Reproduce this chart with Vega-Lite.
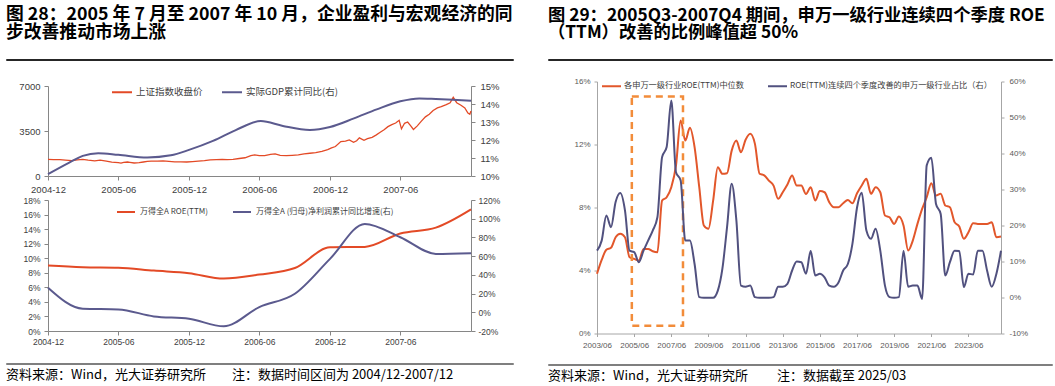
{
  "$schema": "https://vega.github.io/schema/vega-lite/v6.json",
  "padding": {"left": 5, "top": 5, "right": 0, "bottom": 0},
  "background": "white",
  "config": {
    "view": {"stroke": null},
    "axis": {"grid": false, "labelFont": "Liberation Sans", "labelFlush": false, "labelOverlap": false},
    "legend": {"padding": 0}
  },
  "spacing": 33,
  "resolve": {"scale": {"color": "independent"}, "legend": {"color": "independent"}},
  "hconcat": [
    {
      "columns": 1,
      "align": "none",
      "spacing": 11,
      "resolve": {"scale": {"color": "independent"}, "legend": {"color": "independent"}},
      "concat": [
        {
          "columns": 1,
          "align": "none",
          "spacing": 15,
          "resolve": {"scale": {"color": "independent"}, "legend": {"color": "independent"}},
          "concat": [
            {
              "width": 507,
              "height": 1,
              "view": {"stroke": "#262626", "strokeWidth": 1},
              "title": {"text": ["图 28：2005 年 7 月至 2007 年 10 月，企业盈利与宏观经济的同", "步改善推动市场上涨"], "anchor": "start", "frame": "group", "font": "Noto Sans CJK SC", "fontSize": 17.8, "fontWeight": "bold", "color": "#000000", "lineHeight": 17.5, "offset": 12},
              "data": {"values": [{"t": ""}]},
              "mark": {"type": "text"},
              "encoding": {"text": {"field": "t"}}
            },
            {
              "spacing": 0,
              "resolve": {"scale": {"color": "independent"}, "legend": {"color": "independent"}},
              "hconcat": [
                {
                  "width": 1,
                  "height": 1,
                  "data": {"values": [{"t": ""}]},
                  "mark": {"type": "text"},
                  "encoding": {"text": {"field": "t"}}
                },
                {
                  "spacing": 2,
                  "resolve": {"scale": {"color": "independent"}, "legend": {"color": "independent"}},
                  "vconcat": [
                    {
                      "width": 423,
                      "height": 90,
                      "resolve": {"scale": {"y": "independent"}},
                      "layer": [
                        {
                          "data": {"values": [
                            {"d": "2004-12-01", "v": 1300}, {"d": "2004-12-15", "v": 1270}, {"d": "2005-01-01", "v": 1266}, {"d": "2005-01-15", "v": 1230},
                            {"d": "2005-02-01", "v": 1190}, {"d": "2005-02-15", "v": 1250}, {"d": "2005-03-01", "v": 1300}, {"d": "2005-03-15", "v": 1240},
                            {"d": "2005-04-01", "v": 1180}, {"d": "2005-04-15", "v": 1230}, {"d": "2005-05-01", "v": 1160}, {"d": "2005-05-15", "v": 1080},
                            {"d": "2005-06-01", "v": 1040}, {"d": "2005-06-08", "v": 1000}, {"d": "2005-06-15", "v": 1060}, {"d": "2005-06-25", "v": 1090},
                            {"d": "2005-07-01", "v": 1060}, {"d": "2005-07-12", "v": 1010}, {"d": "2005-07-25", "v": 1040}, {"d": "2005-08-05", "v": 1090},
                            {"d": "2005-08-15", "v": 1140}, {"d": "2005-08-25", "v": 1160}, {"d": "2005-09-10", "v": 1150}, {"d": "2005-09-25", "v": 1170},
                            {"d": "2005-10-10", "v": 1130}, {"d": "2005-10-25", "v": 1100}, {"d": "2005-11-10", "v": 1100}, {"d": "2005-11-25", "v": 1090},
                            {"d": "2005-12-10", "v": 1120}, {"d": "2005-12-25", "v": 1150}, {"d": "2006-01-10", "v": 1190}, {"d": "2006-01-25", "v": 1250},
                            {"d": "2006-02-10", "v": 1270}, {"d": "2006-02-25", "v": 1290}, {"d": "2006-03-10", "v": 1270}, {"d": "2006-03-25", "v": 1300},
                            {"d": "2006-04-10", "v": 1360}, {"d": "2006-04-25", "v": 1420}, {"d": "2006-05-10", "v": 1580}, {"d": "2006-05-20", "v": 1640},
                            {"d": "2006-06-01", "v": 1590}, {"d": "2006-06-15", "v": 1580}, {"d": "2006-06-30", "v": 1680}, {"d": "2006-07-12", "v": 1720},
                            {"d": "2006-07-25", "v": 1610}, {"d": "2006-08-10", "v": 1580}, {"d": "2006-08-25", "v": 1610}, {"d": "2006-09-10", "v": 1640},
                            {"d": "2006-09-25", "v": 1720}, {"d": "2006-10-10", "v": 1770}, {"d": "2006-10-25", "v": 1820}, {"d": "2006-11-10", "v": 1920},
                            {"d": "2006-11-25", "v": 2050}, {"d": "2006-12-05", "v": 2180}, {"d": "2006-12-15", "v": 2290}, {"d": "2006-12-29", "v": 2680},
                            {"d": "2007-01-10", "v": 2710}, {"d": "2007-01-20", "v": 2800}, {"d": "2007-01-31", "v": 2620}, {"d": "2007-02-08", "v": 2740},
                            {"d": "2007-02-15", "v": 2970}, {"d": "2007-02-27", "v": 2770}, {"d": "2007-03-08", "v": 2900}, {"d": "2007-03-20", "v": 3010},
                            {"d": "2007-03-30", "v": 3180}, {"d": "2007-04-10", "v": 3400}, {"d": "2007-04-20", "v": 3600}, {"d": "2007-04-30", "v": 3840},
                            {"d": "2007-05-10", "v": 4000}, {"d": "2007-05-20", "v": 4120}, {"d": "2007-05-29", "v": 4330}, {"d": "2007-06-04", "v": 3670},
                            {"d": "2007-06-12", "v": 4100}, {"d": "2007-06-20", "v": 4200}, {"d": "2007-06-28", "v": 3900}, {"d": "2007-07-05", "v": 3620},
                            {"d": "2007-07-15", "v": 3900}, {"d": "2007-07-25", "v": 4250}, {"d": "2007-08-05", "v": 4600}, {"d": "2007-08-15", "v": 4800},
                            {"d": "2007-08-25", "v": 5100}, {"d": "2007-09-05", "v": 5300}, {"d": "2007-09-15", "v": 5400}, {"d": "2007-09-28", "v": 5550},
                            {"d": "2007-10-08", "v": 5700}, {"d": "2007-10-16", "v": 6120}, {"d": "2007-10-25", "v": 5700}, {"d": "2007-11-05", "v": 5500},
                            {"d": "2007-11-15", "v": 5300}, {"d": "2007-11-23", "v": 4900}, {"d": "2007-11-28", "v": 4800}, {"d": "2007-12-01", "v": 5050}
                          ]},
                          "mark": {"type": "line", "strokeWidth": 1.3},
                          "encoding": {
                            "x": {"field": "d", "type": "temporal", "title": null,
                              "scale": {"domain": [{"year": 2004, "month": 12, "date": 1, "utc": true}, {"year": 2007, "month": 12, "date": 1, "utc": true}]},
                              "axis": {"values": [
                                {"year": 2004, "month": 12, "date": 1, "utc": true}, {"year": 2005, "month": 6, "date": 1, "utc": true},
                                {"year": 2005, "month": 12, "date": 1, "utc": true}, {"year": 2006, "month": 6, "date": 1, "utc": true},
                                {"year": 2006, "month": 12, "date": 1, "utc": true}, {"year": 2007, "month": 6, "date": 1, "utc": true}],
                                "labelExpr": "utcFormat(datum.value, '%Y-%m')", "domainColor": "#868686", "tickColor": "#868686", "tickSize": 4, "labelPadding": 4, "labelFontSize": 9.5, "labelColor": "#404040"}},
                            "y": {"field": "v", "type": "quantitative", "title": null, "scale": {"domain": [0, 7000]},
                              "axis": {"values": [0, 3500, 7000], "format": "d", "minExtent": 41, "domainColor": "#868686", "tickColor": "#868686", "tickSize": 4, "labelPadding": 4, "labelFontSize": 9.5, "labelColor": "#404040"}},
                            "color": {"datum": "上证指数收盘价",
                              "scale": {"domain": ["上证指数收盘价", "实际GDP累计同比(右)"], "range": ["#E34A26", "#5B5A8E"]},
                              "legend": {"orient": "none", "legendX": 63, "legendY": -5, "direction": "horizontal", "title": null, "symbolType": "stroke", "symbolSize": 400, "symbolStrokeWidth": 2, "labelFontSize": 9.5, "labelFont": "Noto Sans CJK SC", "labelColor": "#404040", "columnPadding": 15, "labelOffset": 3, "labelLimit": 300}}
                          }
                        },
                        {
                          "data": {"values": [
                            {"d": "2004-12-01", "g": 10.1}, {"d": "2005-01-25", "g": 10.74}, {"d": "2005-03-01", "g": 11.12}, {"d": "2005-04-10", "g": 11.27},
                            {"d": "2005-06-01", "g": 11.18}, {"d": "2005-08-15", "g": 11.03}, {"d": "2005-10-15", "g": 11.15}, {"d": "2005-12-01", "g": 11.45},
                            {"d": "2006-02-01", "g": 11.95}, {"d": "2006-04-01", "g": 12.55}, {"d": "2006-06-05", "g": 13.05}, {"d": "2006-08-01", "g": 12.78},
                            {"d": "2006-10-10", "g": 12.56}, {"d": "2006-12-01", "g": 12.72}, {"d": "2007-02-01", "g": 13.2}, {"d": "2007-04-01", "g": 13.7},
                            {"d": "2007-06-01", "g": 14.15}, {"d": "2007-07-20", "g": 14.31}, {"d": "2007-09-01", "g": 14.28}, {"d": "2007-10-15", "g": 14.24},
                            {"d": "2007-12-01", "g": 14.18}
                          ]},
                          "mark": {"type": "line", "strokeWidth": 2, "interpolate": "monotone"},
                          "encoding": {
                            "x": {"field": "d", "type": "temporal", "title": null},
                            "y": {"field": "g", "type": "quantitative", "title": null, "scale": {"domain": [10, 15]},
                              "axis": {"orient": "right", "values": [10, 11, 12, 13, 14, 15], "labelExpr": "datum.value + '%'", "domainColor": "#868686", "tickColor": "#868686", "tickSize": 4, "labelPadding": 5, "labelFontSize": 9.5, "labelColor": "#404040"}},
                            "color": {"datum": "实际GDP累计同比(右)"}
                          }
                        }
                      ]
                    },
                    {
                      "width": 423,
                      "height": 131,
                      "resolve": {"scale": {"y": "independent"}},
                      "layer": [
                        {
                          "data": {"values": [
                            {"d": "2004-12-01", "r": 9.0}, {"d": "2005-03-01", "r": 8.77}, {"d": "2005-06-01", "r": 8.7}, {"d": "2005-09-01", "r": 8.3},
                            {"d": "2005-12-01", "r": 7.95}, {"d": "2006-03-01", "r": 7.2}, {"d": "2006-06-01", "r": 7.75}, {"d": "2006-09-01", "r": 8.65},
                            {"d": "2006-12-01", "r": 11.5}, {"d": "2007-03-01", "r": 11.55}, {"d": "2007-06-01", "r": 13.4}, {"d": "2007-09-01", "r": 14.2},
                            {"d": "2007-12-01", "r": 16.7}
                          ]},
                          "mark": {"type": "line", "strokeWidth": 2, "interpolate": "monotone"},
                          "encoding": {
                            "x": {"field": "d", "type": "temporal", "title": null,
                              "scale": {"domain": [{"year": 2004, "month": 12, "date": 1, "utc": true}, {"year": 2007, "month": 12, "date": 1, "utc": true}]},
                              "axis": {"values": [
                                {"year": 2004, "month": 12, "date": 1, "utc": true}, {"year": 2005, "month": 6, "date": 1, "utc": true},
                                {"year": 2005, "month": 12, "date": 1, "utc": true}, {"year": 2006, "month": 6, "date": 1, "utc": true},
                                {"year": 2006, "month": 12, "date": 1, "utc": true}, {"year": 2007, "month": 6, "date": 1, "utc": true}],
                                "labelExpr": "utcFormat(datum.value, '%Y-%m')", "domainColor": "#868686", "tickColor": "#868686", "tickSize": 4, "labelPadding": 2, "labelFontSize": 8.5, "labelColor": "#404040"}},
                            "y": {"field": "r", "type": "quantitative", "title": null, "scale": {"domain": [0, 18]},
                              "axis": {"values": [0, 2, 4, 6, 8, 10, 12, 14, 16, 18], "labelExpr": "datum.value + '%'", "minExtent": 41, "domainColor": "#868686", "tickColor": "#868686", "tickSize": 4, "labelPadding": 4, "labelFontSize": 8.5, "labelColor": "#404040"}},
                            "color": {"datum": "万得全A ROE(TTM)",
                              "scale": {"domain": ["万得全A ROE(TTM)", "万得全A (归母)净利润累计同比增速(右)"], "range": ["#E34A26", "#5B5A8E"]},
                              "legend": {"orient": "none", "legendX": 68, "legendY": 2, "direction": "horizontal", "title": null, "symbolType": "stroke", "symbolSize": 324, "symbolStrokeWidth": 2, "labelFontSize": 8, "labelFont": "Noto Sans CJK SC", "labelColor": "#404040", "columnPadding": 21, "labelOffset": 4, "labelLimit": 300}}
                          }
                        },
                        {
                          "data": {"values": [
                            {"d": "2004-12-01", "p": 26.2}, {"d": "2005-03-01", "p": 3.8}, {"d": "2005-06-01", "p": 3.1}, {"d": "2005-09-01", "p": -4.4},
                            {"d": "2005-12-01", "p": -6.9}, {"d": "2006-03-01", "p": -15}, {"d": "2006-06-01", "p": 5.6}, {"d": "2006-09-01", "p": 19.8},
                            {"d": "2006-12-01", "p": 57.1}, {"d": "2007-03-01", "p": 94.4}, {"d": "2007-06-01", "p": 80.2}, {"d": "2007-09-01", "p": 62.4},
                            {"d": "2007-12-01", "p": 63.2}
                          ]},
                          "mark": {"type": "line", "strokeWidth": 2, "interpolate": "monotone"},
                          "encoding": {
                            "x": {"field": "d", "type": "temporal", "title": null},
                            "y": {"field": "p", "type": "quantitative", "title": null, "scale": {"domain": [-20, 120]},
                              "axis": {"orient": "right", "values": [-20, 0, 20, 40, 60, 80, 100, 120], "labelExpr": "datum.value + '%'", "domainColor": "#868686", "tickColor": "#868686", "tickSize": 4, "labelPadding": 3, "labelFontSize": 8.5, "labelColor": "#404040"}},
                            "color": {"datum": "万得全A (归母)净利润累计同比增速(右)"}
                          }
                        }
                      ]
                    }
                  ]
                }
              ]
            }
          ]
        },
        {
          "width": 507,
          "height": 1,
          "view": {"stroke": "#7F7F7F", "strokeWidth": 1},
          "title": {"text": "资料来源：Wind，光大证券研究所　　注：数据时间区间为 2004/12-2007/12", "orient": "bottom", "anchor": "start", "frame": "group", "font": "Noto Sans CJK SC", "fontSize": 13, "fontWeight": "normal", "color": "#000000", "offset": 0},
          "data": {"values": [{"t": ""}]},
          "mark": {"type": "text"},
          "encoding": {"text": {"field": "t"}}
        }
      ]
    },
    {
      "columns": 1,
      "align": "none",
      "spacing": 8,
      "resolve": {"scale": {"color": "independent"}, "legend": {"color": "independent"}},
      "concat": [
        {
          "columns": 1,
          "align": "none",
          "spacing": 10.5,
          "resolve": {"scale": {"color": "independent"}, "legend": {"color": "independent"}},
          "concat": [
            {
              "width": 504,
              "height": 1,
              "view": {"stroke": "#262626", "strokeWidth": 1},
              "title": {"text": ["图 29：2005Q3-2007Q4 期间，申万一级行业连续四个季度 ROE", "（TTM）改善的比例峰值超 50%"], "anchor": "start", "frame": "group", "font": "Noto Sans CJK SC", "fontSize": 17.3, "fontWeight": "bold", "color": "#000000", "lineHeight": 17.5, "offset": 12},
              "data": {"values": [{"t": ""}]},
              "mark": {"type": "text"},
              "encoding": {"text": {"field": "t"}}
            },
            {
              "spacing": 0,
              "resolve": {"scale": {"color": "independent"}, "legend": {"color": "independent"}},
              "hconcat": [
                {
                  "width": 1,
                  "height": 1,
                  "data": {"values": [{"t": ""}]},
                  "mark": {"type": "text"},
                  "encoding": {"text": {"field": "t"}}
                },
                {
                  "width": 404,
                  "height": 252,
                  "resolve": {"scale": {"y": "independent"}},
                  "layer": [
                    {
                      "layer": [
                        {
                          "data": {"name": "q"},
                          "mark": {"type": "line", "strokeWidth": 2, "interpolate": "monotone"},
                          "encoding": {
                            "x": {"field": "d", "type": "temporal", "title": null,
                              "scale": {"domain": [{"year": 2003, "month": 6, "date": 30, "utc": true}, {"year": 2025, "month": 3, "date": 31, "utc": true}]},
                              "axis": {"values": [
                                {"year": 2003, "month": 6, "date": 30, "utc": true}, {"year": 2005, "month": 6, "date": 30, "utc": true},
                                {"year": 2007, "month": 6, "date": 30, "utc": true}, {"year": 2009, "month": 6, "date": 30, "utc": true},
                                {"year": 2011, "month": 6, "date": 30, "utc": true}, {"year": 2013, "month": 6, "date": 30, "utc": true},
                                {"year": 2015, "month": 6, "date": 30, "utc": true}, {"year": 2017, "month": 6, "date": 30, "utc": true},
                                {"year": 2019, "month": 6, "date": 30, "utc": true}, {"year": 2021, "month": 6, "date": 30, "utc": true},
                                {"year": 2023, "month": 6, "date": 30, "utc": true}],
                                "labelExpr": "utcFormat(datum.value, '%Y/%m')", "domainColor": "#A6A6A6", "tickColor": "#A6A6A6", "tickSize": 3, "labelPadding": 5, "labelFontSize": 8, "labelColor": "#595959"}},
                            "y": {"field": "roe", "type": "quantitative", "title": null, "scale": {"domain": [0, 16]},
                              "axis": {"values": [0, 2, 4, 6, 8, 10, 12, 14, 16], "labelExpr": "datum.value + '%'", "minExtent": 48, "domainColor": "#A6A6A6", "tickColor": "#A6A6A6", "tickSize": 3, "labelPadding": 4, "labelFontSize": 8, "labelColor": "#595959"}},
                            "color": {"datum": "各申万一级行业ROE(TTM)中位数",
                              "scale": {"domain": ["各申万一级行业ROE(TTM)中位数", "ROE(TTM)连续四个季度改善的申万一级行业占比（右）"], "range": ["#E2572B", "#51517F"]},
                              "legend": {"orient": "none", "legendX": 4, "legendY": -6, "direction": "horizontal", "title": null, "symbolType": "stroke", "symbolSize": 361, "symbolStrokeWidth": 2, "labelFontSize": 8.2, "labelFont": "Noto Sans CJK SC", "labelColor": "#404040", "columnPadding": 20, "labelOffset": 2, "labelLimit": 300}}
                          }
                        },
                        {
                          "data": {"values": [{"x1": "2005-05-15", "x2": "2008-02-15", "y1": 0.5, "y2": 15.05}]},
                          "mark": {"type": "rect", "fill": "white", "fillOpacity": 0, "stroke": "#F28C3A", "strokeWidth": 2.5, "strokeDash": [7, 5]},
                          "encoding": {
                            "x": {"field": "x1", "type": "temporal", "title": null},
                            "x2": {"field": "x2"},
                            "y": {"field": "y1", "type": "quantitative", "title": null},
                            "y2": {"field": "y2"}
                          }
                        }
                      ]
                    },
                    {
                      "data": {"name": "q"},
                      "mark": {"type": "line", "strokeWidth": 2, "interpolate": "monotone"},
                      "encoding": {
                        "x": {"field": "d", "type": "temporal", "title": null},
                        "y": {"field": "pct", "type": "quantitative", "title": null, "scale": {"domain": [-10, 60]},
                          "axis": {"orient": "right", "values": [-10, 0, 10, 20, 30, 40, 50, 60], "labelExpr": "datum.value + '%'", "domainColor": "#A6A6A6", "tickColor": "#A6A6A6", "tickSize": 3, "labelPadding": 5, "labelFontSize": 8, "labelColor": "#595959"}},
                        "color": {"datum": "ROE(TTM)连续四个季度改善的申万一级行业占比（右）"}
                      }
                    }
                  ]
                }
              ]
            }
          ]
        },
        {
          "width": 504,
          "height": 1,
          "view": {"stroke": "#7F7F7F", "strokeWidth": 1},
          "title": {"text": "资料来源：Wind，光大证券研究所　　 注：数据截至 2025/03", "orient": "bottom", "anchor": "start", "frame": "group", "font": "Noto Sans CJK SC", "fontSize": 13, "fontWeight": "normal", "color": "#000000", "offset": 0},
          "data": {"values": [{"t": ""}]},
          "mark": {"type": "text"},
          "encoding": {"text": {"field": "t"}}
        }
      ]
    }
  ],
  "datasets": {
    "q": [
      {"d": "2003-06-30", "roe": 3.79, "pct": 13.0}, {"d": "2003-09-30", "roe": 4.67, "pct": 15.8}, {"d": "2003-12-31", "roe": 5.31, "pct": 22.8}, {"d": "2004-03-31", "roe": 5.44, "pct": 19.5},
      {"d": "2004-06-30", "roe": 6.11, "pct": 26.5}, {"d": "2004-09-30", "roe": 6.33, "pct": 29.0}, {"d": "2004-12-31", "roe": 6.11, "pct": 24.2}, {"d": "2005-03-31", "roe": 4.84, "pct": 13.0},
      {"d": "2005-06-30", "roe": 4.74, "pct": 12.6}, {"d": "2005-09-30", "roe": 4.63, "pct": 9.8}, {"d": "2005-12-31", "roe": 5.37, "pct": 13.0}, {"d": "2006-03-31", "roe": 5.37, "pct": 15.8},
      {"d": "2006-06-30", "roe": 5.22, "pct": 18.6}, {"d": "2006-09-30", "roe": 5.16, "pct": 22.3}, {"d": "2006-12-31", "roe": 8.44, "pct": 39.0}, {"d": "2007-03-31", "roe": 8.65, "pct": 41.8},
      {"d": "2007-06-30", "roe": 9.29, "pct": 54.7}, {"d": "2007-09-30", "roe": 10.66, "pct": 34.8}, {"d": "2007-12-31", "roe": 13.52, "pct": 32.5}, {"d": "2008-03-31", "roe": 12.25, "pct": 15.8},
      {"d": "2008-06-30", "roe": 13.06, "pct": 15.8}, {"d": "2008-09-30", "roe": 11.83, "pct": 9.3}, {"d": "2008-12-31", "roe": 9.29, "pct": 0.1}, {"d": "2009-03-31", "roe": 6.86, "pct": -0.1},
      {"d": "2009-06-30", "roe": 6.65, "pct": -0.1}, {"d": "2009-09-30", "roe": 8.44, "pct": -0.1}, {"d": "2009-12-31", "roe": 10.56, "pct": 1.9}, {"d": "2010-03-31", "roe": 10.14, "pct": 8.0},
      {"d": "2010-06-30", "roe": 10.18, "pct": 19.5}, {"d": "2010-09-30", "roe": 11.61, "pct": 31.6}, {"d": "2010-12-31", "roe": 12.25, "pct": 21.4}, {"d": "2011-03-31", "roe": 11.51, "pct": 3.3},
      {"d": "2011-06-30", "roe": 12.3, "pct": 3.0}, {"d": "2011-09-30", "roe": 12.68, "pct": 3.3}, {"d": "2011-12-31", "roe": 12.04, "pct": 0.1}, {"d": "2012-03-31", "roe": 10.14, "pct": -0.1},
      {"d": "2012-06-30", "roe": 10.04, "pct": -0.1}, {"d": "2012-09-30", "roe": 9.71, "pct": -0.1}, {"d": "2012-12-31", "roe": 9.39, "pct": 0.1}, {"d": "2013-03-31", "roe": 8.55, "pct": 3.0},
      {"d": "2013-06-30", "roe": 8.97, "pct": 3.0}, {"d": "2013-09-30", "roe": 9.46, "pct": 3.8}, {"d": "2013-12-31", "roe": 10.03, "pct": 7.5}, {"d": "2014-03-31", "roe": 9.39, "pct": 10.0},
      {"d": "2014-06-30", "roe": 9.39, "pct": 9.8}, {"d": "2014-09-30", "roe": 8.86, "pct": 6.6}, {"d": "2014-12-31", "roe": 9.29, "pct": 12.9}, {"d": "2015-03-31", "roe": 8.44, "pct": 6.1},
      {"d": "2015-06-30", "roe": 9.04, "pct": 6.6}, {"d": "2015-09-30", "roe": 8.97, "pct": 5.6}, {"d": "2015-12-31", "roe": 8.34, "pct": 3.3}, {"d": "2016-03-31", "roe": 8.02, "pct": 3.0},
      {"d": "2016-06-30", "roe": 8.02, "pct": 4.2}, {"d": "2016-09-30", "roe": 8.27, "pct": 7.5}, {"d": "2016-12-31", "roe": 8.48, "pct": 9.3}, {"d": "2017-03-31", "roe": 8.27, "pct": 14.9},
      {"d": "2017-06-30", "roe": 8.9, "pct": 25.0}, {"d": "2017-09-30", "roe": 9.4, "pct": 29.1}, {"d": "2017-12-31", "roe": 9.82, "pct": 18.6}, {"d": "2018-03-31", "roe": 8.87, "pct": 16.3},
      {"d": "2018-06-30", "roe": 9.29, "pct": 19.1}, {"d": "2018-09-30", "roe": 8.97, "pct": 13.0}, {"d": "2018-12-31", "roe": 7.49, "pct": 3.3}, {"d": "2019-03-31", "roe": 7.38, "pct": 0.1},
      {"d": "2019-06-30", "roe": 6.96, "pct": -0.1}, {"d": "2019-09-30", "roe": 7.43, "pct": 0.1}, {"d": "2019-12-31", "roe": 6.86, "pct": 12.9}, {"d": "2020-03-31", "roe": 5.27, "pct": 3.0},
      {"d": "2020-06-30", "roe": 5.9, "pct": 3.3}, {"d": "2020-09-30", "roe": 6.96, "pct": 3.3}, {"d": "2020-12-31", "roe": 7.91, "pct": -0.4}, {"d": "2021-03-31", "roe": 8.65, "pct": 36.7},
      {"d": "2021-06-30", "roe": 9.54, "pct": 38.8}, {"d": "2021-09-30", "roe": 8.76, "pct": 26.0}, {"d": "2021-12-31", "roe": 8.87, "pct": 23.2}, {"d": "2022-03-31", "roe": 8.13, "pct": 6.1},
      {"d": "2022-06-30", "roe": 8.02, "pct": 9.8}, {"d": "2022-09-30", "roe": 7.07, "pct": 13.0}, {"d": "2022-12-31", "roe": 6.79, "pct": 12.9}, {"d": "2023-03-31", "roe": 6.01, "pct": 2.9},
      {"d": "2023-06-30", "roe": 6.43, "pct": 6.6}, {"d": "2023-09-30", "roe": 7.0, "pct": 6.4}, {"d": "2023-12-31", "roe": 6.96, "pct": 13.0}, {"d": "2024-03-31", "roe": 6.96, "pct": 13.0},
      {"d": "2024-06-30", "roe": 6.96, "pct": 7.5}, {"d": "2024-09-30", "roe": 7.07, "pct": 3.0}, {"d": "2024-12-31", "roe": 6.11, "pct": 6.6}, {"d": "2025-03-31", "roe": 6.16, "pct": 13.0}
    ]
  }
}
